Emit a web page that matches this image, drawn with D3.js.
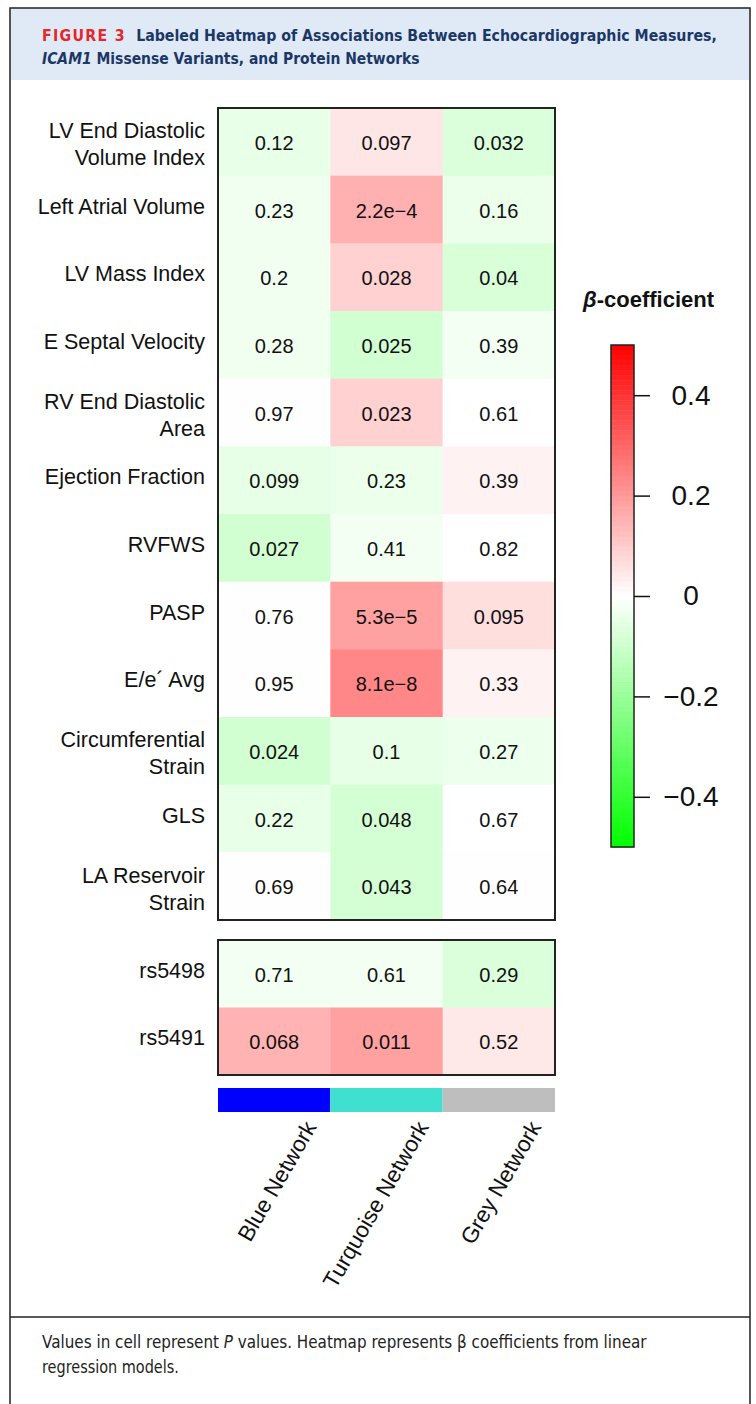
<!doctype html>
<html lang="en">
<head>
<meta charset="UTF-8" />
<title>Figure 3 heatmap</title>
<script src="https://cdn.jsdelivr.net/npm/d3@7"></script>
<style>
  body { margin: 0; background: #fff; }
  svg text { font-family: "Liberation Sans", Arial, sans-serif; }
  svg text.narrow { font-family: "DejaVu Sans", sans-serif; }
</style>
</head>
<body>
<div id="graph"></div>
<script>
// Networks (columns) and their colour strip
var networks = ["Blue Network", "Turquoise Network", "Grey Network"];
var networkColors = ["#0000ff", "#40e0d0", "#bebebe"];

// Echo measures (rows of the upper block), multi-line labels
var echoMeasures = [
  ["LV End Diastolic", "Volume Index"],
  ["Left Atrial Volume"],
  ["LV Mass Index"],
  ["E Septal Velocity"],
  ["RV End Diastolic", "Area"],
  ["Ejection Fraction"],
  ["RVFWS"],
  ["PASP"],
  ["E/e\u00b4 Avg"],
  ["Circumferential", "Strain"],
  ["GLS"],
  ["LA Reservoir", "Strain"]
];
var variants = ["rs5498", "rs5491"];

// P values shown in cells
var echoP = [
  ["0.12", "0.097", "0.032"],
  ["0.23", "2.2e\u22124", "0.16"],
  ["0.2", "0.028", "0.04"],
  ["0.28", "0.025", "0.39"],
  ["0.97", "0.023", "0.61"],
  ["0.099", "0.23", "0.39"],
  ["0.027", "0.41", "0.82"],
  ["0.76", "5.3e\u22125", "0.095"],
  ["0.95", "8.1e\u22128", "0.33"],
  ["0.024", "0.1", "0.27"],
  ["0.22", "0.048", "0.67"],
  ["0.69", "0.043", "0.64"]
];
var variantP = [
  ["0.71", "0.61", "0.29"],
  ["0.068", "0.011", "0.52"]
];

// beta coefficients
var echoBeta = [
  [-0.045, 0.05, -0.07],
  [-0.03, 0.155, -0.04],
  [-0.03, 0.09, -0.075],
  [-0.03, -0.09, -0.025],
  [0.001, 0.09, -0.002],
  [-0.05, -0.04, 0.025],
  [-0.09, -0.025, -0.002],
  [0.002, 0.185, 0.065],
  [0.001, 0.235, 0.025],
  [-0.09, -0.05, -0.035],
  [-0.045, -0.085, -0.002],
  [0.002, -0.085, 0.002]
];
var variantBeta = [
  [-0.025, -0.025, -0.07],
  [0.15, 0.185, 0.045]
];

var legendTicks = [0.4, 0.2, 0, -0.2, -0.4];

var width = 756, height = 1404;

var svg = d3.select("#graph").append("svg")
  .attr("width", width)
  .attr("height", height);

// squeeze a text element horizontally so it spans the given width
function fitWidth(sel, x0, w) {
  var len = sel.node().getComputedTextLength();
  var k = w / len;
  sel.attr("transform", "translate(" + x0 + ",0) scale(" + k + ",1) translate(" + (-x0) + ",0)");
}

// frame + header band
svg.append("rect").attr("x", 10).attr("y", 8).attr("width", 740).attr("height", 72)
  .attr("fill", "#dfeaf6");
svg.append("rect").attr("x", 10).attr("y", 8).attr("width", 740).attr("height", 1430)
  .attr("fill", "none").attr("stroke", "#222").attr("stroke-width", 1.5);
svg.append("line").attr("x1", 10).attr("x2", 750).attr("y1", 1317).attr("y2", 1317)
  .attr("stroke", "#222").attr("stroke-width", 1.5);

// title
var t1 = svg.append("text").attr("class", "narrow").attr("x", 42).attr("y", 41)
  .attr("font-size", 16.5).attr("font-weight", "bold").attr("fill", "#1c3766");
t1.append("tspan").attr("fill", "#e5262b").attr("letter-spacing", 1.5).text("FIGURE 3");
t1.append("tspan").attr("dx", 12).text("Labeled Heatmap of Associations Between Echocardiographic Measures,");
fitWidth(t1, 42, 665);
var t2 = svg.append("text").attr("class", "narrow").attr("x", 42).attr("y", 64)
  .attr("font-size", 16.5).attr("font-weight", "bold").attr("fill", "#1c3766");
t2.append("tspan").attr("font-style", "italic").text("ICAM1");
t2.append("tspan").text(" Missense Variants, and Protein Networks");
fitWidth(t2, 42, 378);

// scales
var color = d3.scaleLinear().domain([-0.5, 0, 0.5]).range(["#00ff00", "#ffffff", "#ff0000"]);
var x = d3.scaleBand().domain(networks).range([218, 555]);
var yEcho = d3.scaleBand().domain(d3.range(echoMeasures.length)).range([108, 920]);
var yVar = d3.scaleBand().domain(d3.range(variants.length)).range([940, 1075]);

function drawBlock(labels, pVals, betas, y) {
  var g = svg.append("g");
  var cells = [];
  pVals.forEach(function(row, i) {
    row.forEach(function(p, j) {
      cells.push({ row: i, col: networks[j], p: p, beta: betas[i][j] });
    });
  });
  g.selectAll("rect.cell").data(cells).enter().append("rect")
    .attr("class", "cell")
    .attr("x", d => x(d.col))
    .attr("y", d => y(d.row))
    .attr("width", x.bandwidth() + 0.5)
    .attr("height", y.bandwidth() + 0.5)
    .attr("fill", d => color(d.beta));
  g.selectAll("text.val").data(cells).enter().append("text")
    .attr("class", "val")
    .attr("x", d => x(d.col) + x.bandwidth() / 2)
    .attr("y", d => y(d.row) + y.bandwidth() / 2 + 8)
    .attr("text-anchor", "middle")
    .attr("font-size", 20)
    .attr("fill", "#111")
    .text(d => d.p);
  g.append("rect")
    .attr("x", x.range()[0]).attr("y", y.range()[0])
    .attr("width", x.range()[1] - x.range()[0])
    .attr("height", y.range()[1] - y.range()[0])
    .attr("fill", "none").attr("stroke", "#222").attr("stroke-width", 2);

  var lab = g.selectAll("text.rowlab").data(labels).enter().append("text")
    .attr("class", "rowlab")
    .attr("text-anchor", "end")
    .attr("font-size", 21.5)
    .attr("fill", "#111");
  lab.each(function(d, i) {
    var lines = Array.isArray(d) ? d : [d];
    var cy = y(i) + y.bandwidth() / 2;
    var start = lines.length > 1 ? cy - 3.5 : cy + 4;
    d3.select(this).selectAll("tspan").data(lines).enter().append("tspan")
      .attr("x", 205)
      .attr("y", (l, k) => start + k * 27)
      .text(l => l);
  });
}

drawBlock(echoMeasures, echoP, echoBeta, yEcho);
drawBlock(variants, variantP, variantBeta, yVar);

// network colour strip
svg.selectAll("rect.net").data(networks).enter().append("rect")
  .attr("class", "net")
  .attr("x", d => x(d))
  .attr("y", 1088)
  .attr("width", x.bandwidth())
  .attr("height", 24)
  .attr("fill", (d, i) => networkColors[i]);

svg.selectAll("text.netlab").data(networks).enter().append("text")
  .attr("class", "netlab")
  .attr("text-anchor", "end")
  .attr("font-size", 22.5)
  .attr("fill", "#111")
  .attr("transform", d => "translate(" + (x(d) + x.bandwidth() / 2 + 43) + ",1127) rotate(-60)")
  .text(d => d);

// legend
var ly = d3.scaleLinear().domain([-0.5, 0.5]).range([847, 345]);
var steps = d3.range(-0.5, 0.5, 0.01);
var lg = svg.append("g");
lg.selectAll("rect").data(steps).enter().append("rect")
  .attr("x", 611)
  .attr("y", d => ly(d + 0.01))
  .attr("width", 23)
  .attr("height", d => ly(d) - ly(d + 0.01) + 0.5)
  .attr("fill", d => color(d + 0.005));
lg.append("rect").attr("x", 611).attr("y", 345).attr("width", 23).attr("height", 502)
  .attr("fill", "none").attr("stroke", "#222").attr("stroke-width", 1.5);

var axis = d3.axisRight(ly).tickValues(legendTicks).tickSize(16).tickPadding(14)
  .tickFormat(d => d === 0 ? "0" : d3.format(".1f")(d));
var ag = svg.append("g").attr("transform", "translate(634,0)").call(axis);
ag.select(".domain").remove();
ag.selectAll(".tick line").attr("stroke", "#111").attr("stroke-width", 1.5);
ag.selectAll(".tick text").attr("font-size", 28).attr("fill", "#111")
  .attr("font-family", "Liberation Sans, Arial, sans-serif")
  .attr("text-anchor", "middle").attr("x", 57);

var bt = svg.append("text").attr("x", 583).attr("y", 307)
  .attr("font-size", 22).attr("font-weight", "bold").attr("fill", "#111");
bt.append("tspan").attr("font-style", "italic").text("\u03b2");
bt.append("tspan").text("-coefficient");

// caption
var cap = svg.append("text").attr("class", "narrow").attr("x", 42).attr("y", 1348)
  .attr("font-size", 17).attr("fill", "#222");
cap.append("tspan").text("Values in cell represent ");
cap.append("tspan").attr("font-style", "italic").text("P");
cap.append("tspan").text(" values. Heatmap represents \u03b2 coefficients from linear");
fitWidth(cap, 42, 605);
var cap2 = svg.append("text").attr("class", "narrow").attr("x", 42).attr("y", 1373)
  .attr("font-size", 17).attr("fill", "#222")
  .text("regression models.");
fitWidth(cap2, 42, 137);
</script>
</body>
</html>
